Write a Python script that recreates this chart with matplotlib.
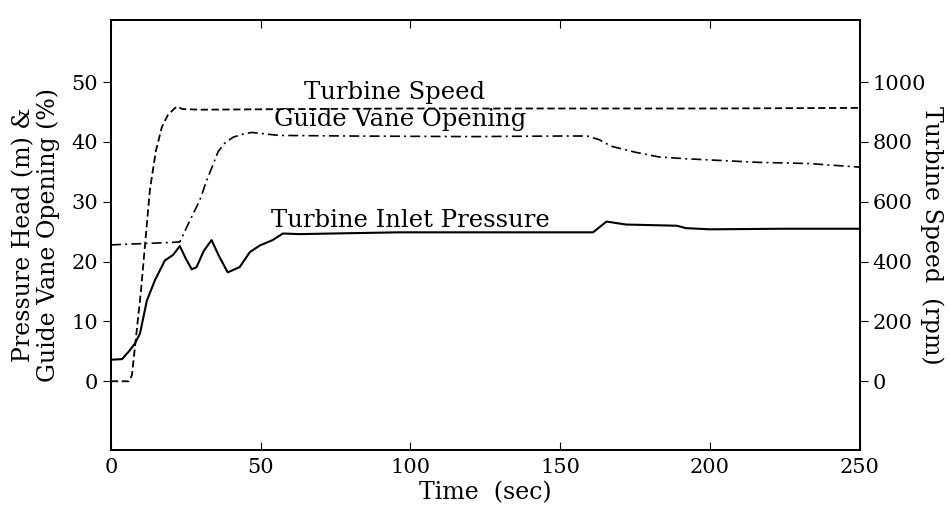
import matplotlib
matplotlib.use("Agg")
import matplotlib.pyplot as plt

plt.rcParams.update({"font.family": "DejaVu Serif", "font.size": 15})

# turbine speed (rpm)
t_speed = [0, 6, 7, 10, 13, 15, 17, 19, 21, 22, 24, 30, 60, 100, 150, 200, 250]
speed = [0, 0, 20, 300, 640, 770, 850, 890, 910, 918, 910, 908, 910, 912, 912, 912, 914]

# guide vane opening (%)
t_gvo = [0, 10, 20, 23, 26, 29.7, 32, 35.8, 38, 40.8, 44, 47, 56, 80, 120, 150, 159,
         163, 167, 175, 183, 192, 200, 216, 233, 250]
gvo = [22.8, 23.0, 23.2, 23.3, 26.5, 30.3, 33.6, 38.4, 39.8, 40.8, 41.3, 41.6, 41.1,
       41.0, 40.9, 41.0, 41.0, 40.4, 39.3, 38.3, 37.5, 37.2, 37.0, 36.6, 36.4, 35.8]

# turbine inlet pressure (m)
t_p = [0, 3.7, 6, 8, 9.7, 12, 14.7, 18, 20.7, 23, 25, 27, 28.6, 31, 33.6, 36, 39, 43,
       46.4, 49.7, 54, 57.4, 63, 96, 130, 161, 165.5, 172, 189, 192, 200, 225, 250]
p = [3.6, 3.7, 5.0, 6.3, 8.0, 13.5, 16.9, 20.2, 21.1, 22.6, 20.5, 18.7, 19.1, 21.8,
     23.6, 21.0, 18.2, 19.1, 21.6, 22.7, 23.6, 24.7, 24.6, 24.9, 24.9, 24.9, 26.7,
     26.2, 26.0, 25.6, 25.4, 25.5, 25.5]

xticks = [0, 50, 100, 150, 200, 250]
yticks = [0, 10, 20, 30, 40, 50]
rticks = [0, 200, 400, 600, 800, 1000]

fig = plt.figure(figsize=(9.5, 5.12), dpi=100)
ax = fig.add_axes([0.1168, 0.121, 0.788, 0.840])
ax2 = ax.twinx()

ymin, ymax = -11.5, 60.4
ax.set_xlim(0, 250)
ax.set_ylim(ymin, ymax)
ax2.set_ylim(ymin * 20, ymax * 20)

ax2.plot(t_speed, speed, color="black", lw=1.3, ls=(0, (4, 2)))
ax.plot(t_gvo, gvo, color="black", lw=1.2, ls=(0, (6, 2.5, 1.2, 2.5)))
ax.plot(t_p, p, color="black", lw=1.5)

ax.text(64.5, 47.2, "Turbine Speed", fontsize=17.5, va="baseline", ha="left")
ax.text(54.5, 42.6, "Guide Vane Opening", fontsize=17.5, va="baseline", ha="left")
ax.text(53.5, 25.8, "Turbine Inlet Pressure", fontsize=17.5, va="baseline", ha="left")

ax.set_xticks(xticks)
ax.set_yticks(yticks)
ax2.set_yticks(rticks)
ax.tick_params(axis="x", direction="in", top=True, length=6, labelsize=15, pad=6)
ax.tick_params(axis="y", direction="out", length=6, labelsize=15)
ax2.tick_params(axis="y", direction="out", length=6, labelsize=15)

ax.set_xlabel("Time  (sec)", fontsize=17, va="top")
ax.set_ylabel("Pressure Head (m) &\nGuide Vane Opening (%)", fontsize=17,
              linespacing=1.1, va="center")
ax2.set_ylabel("Turbine Speed  (rpm)", fontsize=17, rotation=-90, va="center")
ax.xaxis.set_label_coords(0.5, -0.072)
ax.yaxis.set_label_coords(-0.1, 0.5)
ax2.yaxis.set_label_coords(1.097, 0.5)

for a in (ax, ax2):
    for s in a.spines.values():
        s.set_linewidth(1.3)

fig.savefig("out.png", dpi=100)
